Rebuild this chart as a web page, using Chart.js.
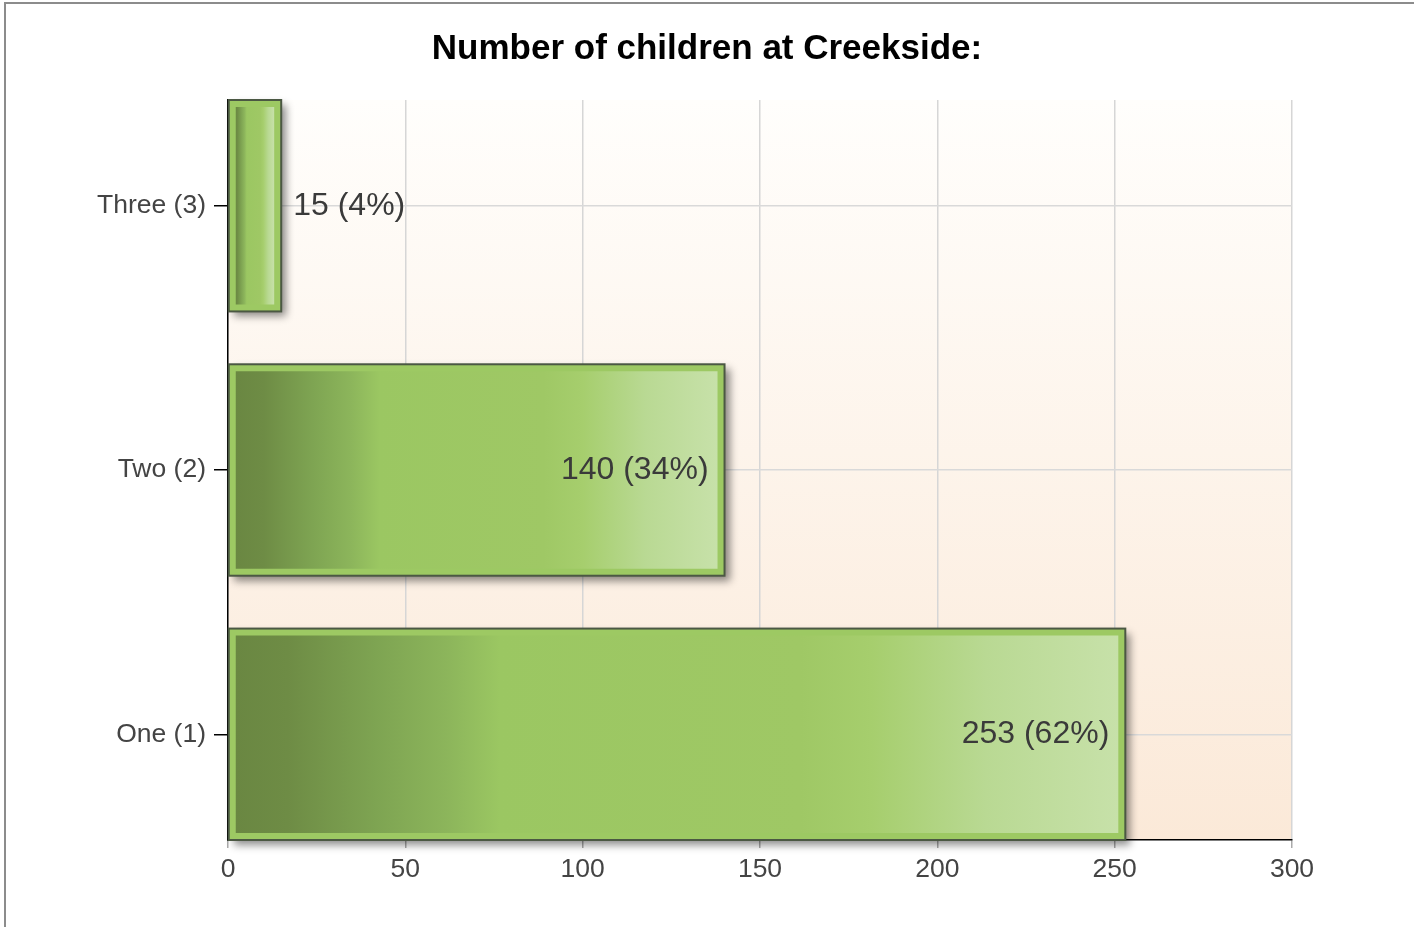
<!DOCTYPE html>
<html>
<head>
<meta charset="utf-8">
<script src="https://cdn.jsdelivr.net/npm/chart.js@4.4.1/dist/chart.umd.min.js"></script>
<style>
  body { margin: 0; background: #fff; }
  #chart { position: absolute; left: 0; top: 0; }
  #frame {
    position: absolute; left: 4px; top: 2px; right: 0; bottom: 0;
    border-top: 2px solid #8c8c8c; border-left: 2px solid #8c8c8c;
    pointer-events: none;
  }
</style>
</head>
<body>
<canvas id="chart" width="1414" height="927"></canvas>
<div id="frame"></div>
<script>
// data, top bar first
var categories = ["Three (3)", "Two (2)", "One (1)"];
var counts = [15, 140, 253];
var percents = [4, 34, 62];
var xMin = 0, xMax = 300, xStep = 50;

var FONT = "'Liberation Sans', Arial, sans-serif";

// bar fill: dark on the left, flat green in the middle, pale at the end
function barGradient(context) {
  var chart = context.chart;
  if (!chart.chartArea) return "#9dc863";
  var xs = chart.scales.x;
  var x0 = xs.getPixelForValue(0) + 7;
  var x1 = xs.getPixelForValue(context.parsed.x) - 7;
  if (x1 <= x0) x1 = x0 + 1;
  var g = chart.ctx.createLinearGradient(x0, 0, x1, 0);
  g.addColorStop(0, "#6a8742");
  g.addColorStop(0.06, "#6e8c45");
  g.addColorStop(0.16, "#7ea452");
  g.addColorStop(0.24, "#8cb55b");
  g.addColorStop(0.30, "#9bc762");
  g.addColorStop(0.64, "#9fc865");
  g.addColorStop(0.72, "#a6ce6d");
  g.addColorStop(0.85, "#b9d993");
  g.addColorStop(1, "#c7e1a9");
  return g;
}

function barRect(el) {
  var p = el.getProps(["x", "y", "base", "height"], true);
  return { left: p.base, top: p.y - p.height / 2, w: p.x - p.base, h: p.height };
}

var plotBackground = {
  id: "plotBackground",
  beforeDraw: function (chart) {
    var a = chart.chartArea, ctx = chart.ctx;
    var g = ctx.createLinearGradient(0, a.top, 0, a.bottom);
    g.addColorStop(0, "#fffefc");
    g.addColorStop(1, "#fbe9d8");
    ctx.save();
    ctx.fillStyle = g;
    ctx.fillRect(a.left, a.top, a.right - a.left, a.bottom - a.top);
    ctx.restore();
  }
};

var barShadow = {
  id: "barShadow",
  beforeDatasetsDraw: function (chart) {
    var ctx = chart.ctx;
    ctx.save();
    ctx.shadowColor = "rgba(0,0,0,0.45)";
    ctx.shadowBlur = 8;
    ctx.shadowOffsetX = 5;
    ctx.shadowOffsetY = 5;
    ctx.fillStyle = "#9dc963";
    chart.getDatasetMeta(0).data.forEach(function (el) {
      var r = barRect(el);
      ctx.fillRect(r.left, r.top, r.w, r.h);
    });
    ctx.restore();
  }
};

var barLabels = {
  id: "barLabels",
  afterDatasetsDraw: function (chart) {
    var ctx = chart.ctx;
    ctx.save();
    ctx.strokeStyle = "#4b5843";
    ctx.lineWidth = 2;
    ctx.font = "32px " + FONT;
    ctx.fillStyle = "#3a3a3a";
    ctx.textBaseline = "middle";
    chart.getDatasetMeta(0).data.forEach(function (el, i) {
      var r = barRect(el);
      ctx.strokeRect(r.left, r.top, r.w, r.h);
      var text = counts[i] + " (" + percents[i] + "%)";
      var tw = ctx.measureText(text).width;
      var cy = r.top + r.h / 2;
      if (tw + 40 < r.w) {
        ctx.textAlign = "right";
        ctx.fillText(text, r.left + r.w - 16, cy);
      } else {
        ctx.textAlign = "left";
        ctx.fillText(text, r.left + r.w + 12, cy);
      }
    });
    ctx.restore();
  }
};

new Chart(document.getElementById("chart"), {
  type: "bar",
  data: {
    datasets: [{
      data: counts.map(function (v, i) { return { x: v, y: i }; }),
      backgroundColor: barGradient,
      borderColor: "#9dc963",
      borderWidth: 7,
      borderSkipped: false,
      categoryPercentage: 0.8,
      barPercentage: 1.0
    }]
  },
  options: {
    indexAxis: "y",
    responsive: false,
    animation: false,
    layout: { padding: 0 },
    plugins: {
      legend: { display: false },
      tooltip: { enabled: false },
      title: {
        display: true,
        text: "Number of children at Creekside:",
        color: "#000",
        font: { family: FONT, size: 35, weight: "bold" },
        padding: { top: 28, bottom: 30 }
      }
    },
    scales: {
      x: {
        type: "linear",
        min: xMin,
        max: xMax,
        ticks: {
          stepSize: xStep,
          color: "#444",
          padding: 6,
          font: { family: FONT, size: 26.5 }
        },
        grid: { color: "#d6d6d6", lineWidth: 1.5, tickLength: 8, tickColor: "#aaa" },
        border: { color: "#000", width: 1.5 },
        afterFit: function (scale) { scale.height = 87; }
      },
      y: {
        type: "linear",
        reverse: true,
        offset: false,
        min: -0.4,
        max: categories.length - 0.6,
        afterBuildTicks: function (scale) {
          scale.ticks = categories.map(function (c, i) { return { value: i }; });
        },
        ticks: {
          color: "#444",
          padding: 8,
          font: { family: FONT, size: 26.5 },
          callback: function (v) { return categories[v]; }
        },
        grid: { offset: false, color: "#d9d9d9", lineWidth: 1.5, tickLength: 14, tickColor: "#000" },
        border: { color: "#000", width: 1.5 },
        afterFit: function (scale) { scale.width = 228; }
      },
      // empty right-hand strip so the plot ends at 300 and the title stays centred on the page
      yRight: {
        type: "linear",
        position: "right",
        display: true,
        ticks: { display: false },
        grid: { display: false },
        border: { display: false },
        afterFit: function (scale) { scale.width = 122; }
      }
    }
  },
  plugins: [plotBackground, barShadow, barLabels]
});
</script>
</body>
</html>
